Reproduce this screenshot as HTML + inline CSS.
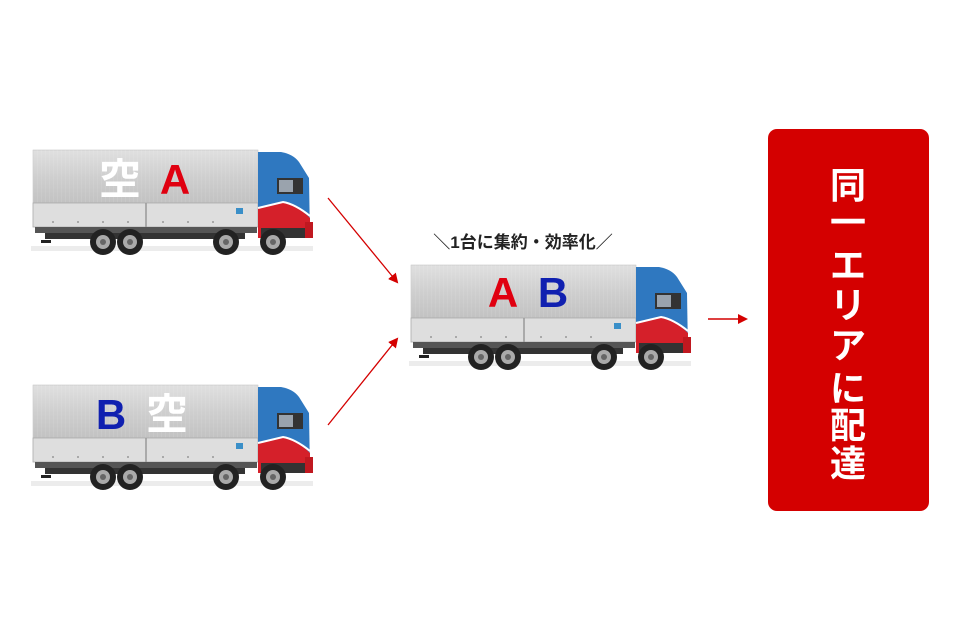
<!DOCTYPE html>
<html><head><meta charset="utf-8"><style>
body{margin:0;background:#fff;}
svg{display:block}
text{font-family:"Liberation Sans","Noto Sans CJK JP",sans-serif;font-weight:bold}
</style></head><body>
<svg width="960" height="640" viewBox="0 0 960 640" xmlns="http://www.w3.org/2000/svg">
<defs>
<linearGradient id="box" x1="0" y1="0" x2="0" y2="1">
<stop offset="0" stop-color="#e0e0e0"/><stop offset="0.5" stop-color="#cfcfcf"/><stop offset="1" stop-color="#c2c2c2"/>
</linearGradient>
<pattern id="ribs" width="4" height="53" patternUnits="userSpaceOnUse">
<rect width="4" height="53" fill="none"/><line x1="0" y1="0" x2="0" y2="53" stroke="#fff" stroke-opacity="0.15"/>
</pattern>
<g id="truck">
<rect x="-2" y="96" width="282" height="5" fill="#ececec"/>
<rect x="0" y="0" width="225" height="53" fill="url(#box)" stroke="#bbb" stroke-width="0.5"/>
<rect x="0" y="0" width="225" height="53" fill="url(#ribs)"/>
<rect x="0" y="53" width="225" height="24" fill="#dedede" stroke="#aaa" stroke-width="0.8"/>
<line x1="113" y1="53" x2="113" y2="77" stroke="#999" stroke-width="1.5"/>
<g fill="#999"><circle cx="20" cy="72" r="1"/><circle cx="45" cy="72" r="1"/><circle cx="70" cy="72" r="1"/><circle cx="95" cy="72" r="1"/><circle cx="130" cy="72" r="1"/><circle cx="155" cy="72" r="1"/><circle cx="180" cy="72" r="1"/></g>
<rect x="2" y="77" width="222" height="6" fill="#555"/>
<rect x="12" y="83" width="200" height="6" fill="#333"/>
<rect x="8" y="90" width="10" height="3" fill="#222"/>
<rect x="203" y="58" width="7" height="6" fill="#3a8fc8"/>
<path d="M225 2 L248 2 Q260 4 266 12 L276 28 L277 88 L225 88 Z" fill="#2f78c0"/>
<path d="M225 58 L250 52 Q265 56 277 68 L277 88 L225 88 Z" fill="#d5202a"/>
<path d="M225 58 L250 52 Q262 54 277 66" fill="none" stroke="#fff" stroke-width="2"/>
<rect x="244" y="28" width="26" height="16" fill="#333"/>
<rect x="246" y="30" width="14" height="12" fill="#9aa3ad"/>
<rect x="228" y="78" width="47" height="10" fill="#333"/>
<rect x="272" y="72" width="8" height="16" fill="#c01820"/>
<g fill="#222"><circle cx="70" cy="92" r="13"/><circle cx="97" cy="92" r="13"/><circle cx="193" cy="92" r="13"/><circle cx="240" cy="92" r="13"/></g>
<g fill="#aaa"><circle cx="70" cy="92" r="7"/><circle cx="97" cy="92" r="7"/><circle cx="193" cy="92" r="7"/><circle cx="240" cy="92" r="7"/></g>
<g fill="#666"><circle cx="70" cy="92" r="3"/><circle cx="97" cy="92" r="3"/><circle cx="193" cy="92" r="3"/><circle cx="240" cy="92" r="3"/></g>
</g>
<marker id="ah" markerWidth="10" markerHeight="10" refX="8" refY="5" orient="auto" markerUnits="userSpaceOnUse">
<path d="M0 0 L10 5 L0 10 Z" fill="#d40000"/></marker>
</defs>

<use href="#truck" x="33" y="150"/>
<use href="#truck" x="33" y="385"/>
<use href="#truck" x="411" y="265"/>

<text x="120" y="194" font-size="42" fill="#fff" text-anchor="middle">空</text>
<text x="175" y="194" font-size="42" fill="#e00010" text-anchor="middle">A</text>
<text x="111" y="429" font-size="42" fill="#1020b0" text-anchor="middle">B</text>
<text x="167" y="429" font-size="42" fill="#fff" text-anchor="middle">空</text>
<text x="503" y="307" font-size="42" fill="#e00010" text-anchor="middle">A</text>
<text x="553" y="307" font-size="42" fill="#1020b0" text-anchor="middle">B</text>

<text x="523" y="248" font-size="17" fill="#222" text-anchor="middle">＼1台に集約・効率化／</text>

<line x1="328" y1="198" x2="397" y2="282" stroke="#d40000" stroke-width="1.3" marker-end="url(#ah)"/>
<line x1="328" y1="425" x2="397" y2="339" stroke="#d40000" stroke-width="1.3" marker-end="url(#ah)"/>
<line x1="708" y1="319" x2="746" y2="319" stroke="#d40000" stroke-width="1.5" marker-end="url(#ah)"/>

<rect x="768" y="129" width="161" height="382" rx="9" fill="#d40000"/>
<g font-size="36" fill="#fff" text-anchor="middle">
<text x="848" y="198">同</text>
<text x="848" y="235">一</text>
<text x="848" y="278">エ</text>
<text x="848" y="318">リ</text>
<text x="848" y="358">ア</text>
<text x="848" y="401">に</text>
<text x="848" y="438">配</text>
<text x="848" y="476">達</text>
</g>
</svg>
</body></html>
